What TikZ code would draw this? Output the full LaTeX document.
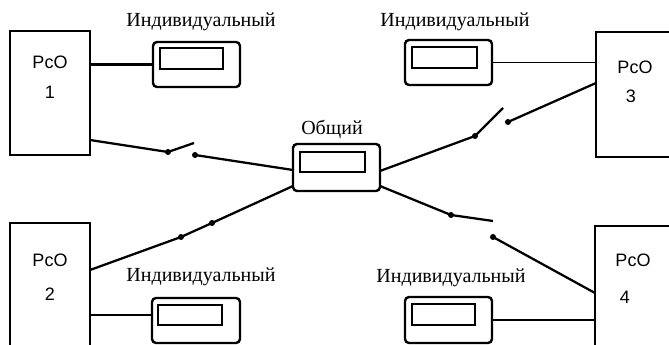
\documentclass[tikz,border=0pt]{standalone}
\usepackage{fontspec}
\setmainfont{Liberation Serif}
\newfontfamily\labelsans{Liberation Sans}
\usetikzlibrary{fit}
\begin{document}
\begin{tikzpicture}[x=0.75pt,y=-0.75pt,
  rco/.style={draw, line width=2.1pt, inner sep=0pt},
  meter/.style={draw, line width=1.8pt, rounded corners=3pt, inner sep=0pt},
  window/.style={draw, line width=1.8pt, inner sep=0pt},
  wire/.style={line width=1.7pt},
  thinwire/.style={line width=0.8pt},
  contact/.style={circle, fill, inner sep=0pt, minimum size=4.5pt},
  captext/.style={font=\fontsize{15}{17}\selectfont, inner sep=0pt},
  rcotext/.style={font=\labelsans\fontsize{13.5}{15}\selectfont, inner sep=0pt}]
\useasboundingbox (0,0) rectangle (669,345);
\clip (0,0) rectangle (669,345);

% four RcO cabinets
\node[rco, fit={(10,31)(90,155)}] (b1) {};
\node[rco, fit={(10,223)(90,370)}] (b2) {};
\node[rco, fit={(596,32)(690,157)}] (b3) {};
\node[rco, fit={(595,226)(690,370)}] (b4) {};

\node[rcotext] (t1) at (50,62) {PcO};
\node[rcotext] (n1) at (50,92) {1};
\node[rcotext] (t2) at (50,260) {PcO};
\node[rcotext] (n2) at (50,294) {2};
\node[rcotext] (t3) at (635,67) {PcO};
\node[rcotext] (n3) at (631,96) {3};
\node[rcotext] (t4) at (633,260) {PcO};
\node[rcotext] (n4) at (625,297) {4};

% meters: rounded case with a display window
\node[meter, fit={(153,42)(240,87)}] (m1) {};
\node[window, fit={(160,48)(223,69)}] (w1) {};
\node[meter, fit={(405,40)(492,85)}] (m3) {};
\node[window, fit={(412,47)(477,68)}] (w3) {};
\node[meter, fit={(293,144)(380,191)}] (mc) {};
\node[window, fit={(300,152)(365,172)}] (wc) {};
\node[meter, fit={(152,298)(240,343)}] (m2) {};
\node[window, fit={(158,305)(222,325)}] (w2) {};
\node[meter, fit={(405,297)(492,343)}] (m4) {};
\node[window, fit={(412,304)(475,325)}] (w4) {};

% captions
\node[captext] (l1) at (201,22) {Индивидуальный};
\node[captext] (l3) at (455,22) {Индивидуальный};
\node[captext] (l2) at (201,277) {Индивидуальный};
\node[captext] (l4) at (451,278) {Индивидуальный};
\node[captext] (lc) at (332,129) {Общий};

% individual meter connections
\draw[wire] (b1.east |- m1.west) -- (m1.west);
\draw[thinwire] (m3.east) -- (b3.west |- m3.east);
\coordinate (j2) at (152,315);
\draw[wire] (b2.east |- j2) -- (j2);
\draw[thinwire] (m4.east) -- (b4.west |- m4.east);

% contacts of the switches
\node[contact] (k1a) at (168,152) {};
\node[contact] (k1b) at (195,155) {};
\node[contact] (k2a) at (181,237) {};
\node[contact] (k2b) at (212,223) {};
\node[contact] (k3a) at (508,122) {};
\node[contact] (k3b) at (475,136) {};
\node[contact] (k4a) at (451,215) {};
\node[contact] (k4b) at (493,237) {};

% wire ends on the cabinets and on the common meter
\coordinate (e1) at (90,140);
\coordinate (e2) at (90,270);
\coordinate (e3) at (596,83);
\coordinate (e4) at (595,293);
\coordinate (c1) at (293,170);
\coordinate (c2) at (293,186);
\coordinate (c3) at (380,171);
\coordinate (c4) at (380,186);
\coordinate (arm1) at (194,143);
\coordinate (arm3) at (503,108);
\coordinate (arm4) at (493,221);

% switch 1 (open)
\draw[wire] (e1) -- (k1a.center) -- (arm1);
\draw[wire] (k1b.center) -- (c1);
% switch 2 (closed)
\draw[wire] (e2) -- (k2a.center) -- (k2b.center) -- (c2);
% switch 3 (open)
\draw[wire] (e3) -- (k3a.center);
\draw[wire] (arm3) -- (k3b.center) -- (c3);
% switch 4 (open)
\draw[wire] (c4) -- (k4a.center) -- (arm4);
\draw[wire] (k4b.center) -- (e4);
\end{tikzpicture}
\end{document}
